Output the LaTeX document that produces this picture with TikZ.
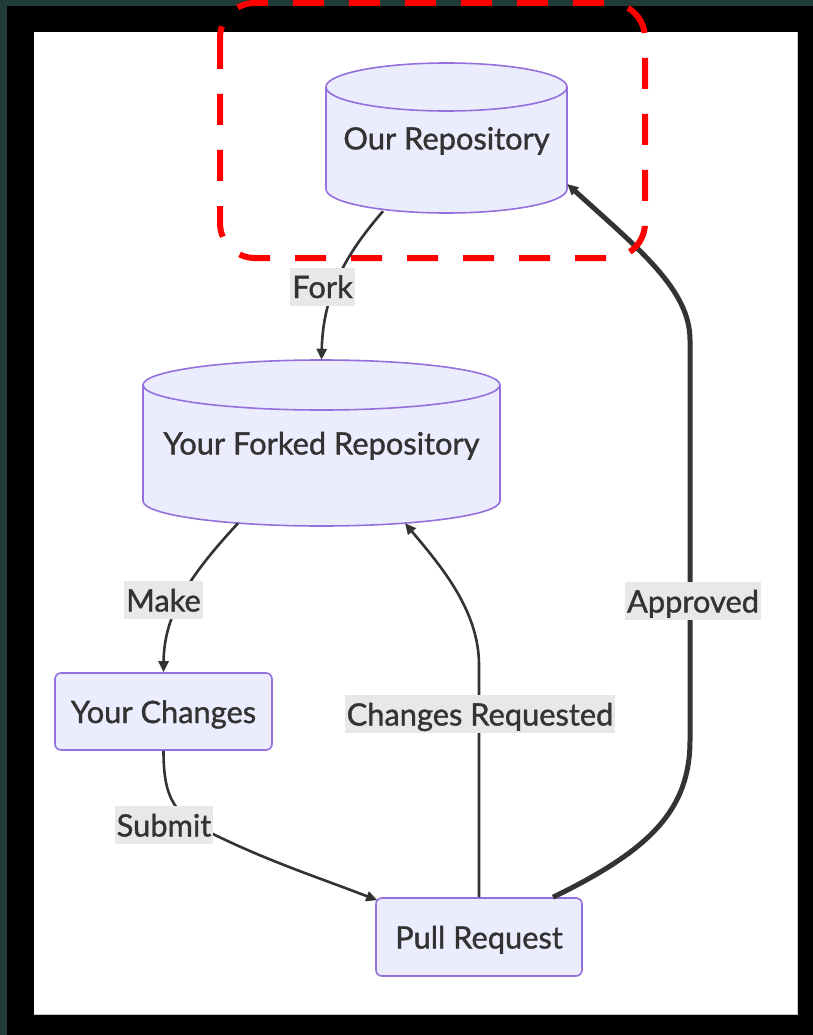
\documentclass[tikz,border=0pt]{standalone}
\usepackage{fontspec}
\setmainfont{Lato}[RawFeature={embolden=1.2}]
\usetikzlibrary{arrows.meta,calc}

\definecolor{nodefill}{HTML}{ECECFF}
\definecolor{nodeline}{HTML}{9370DB}
\definecolor{edgeline}{HTML}{333333}
\definecolor{labelbg}{HTML}{E8E8E8}
\definecolor{textcol}{HTML}{333333}
\definecolor{frameteal}{HTML}{213C37}

% vertical database cylinder: centre x, top y, bottom y, half width, ellipse radius
\newcommand\dbshape[5]{%
  \path[dbbody] ({#1-#4},{#2+#5}) -- ({#1-#4},{#3-#5})
    .. controls ({#1-#4},{#3-#5+0.5523*#5}) and ({#1-0.5523*#4},{#3}) .. ({#1},{#3})
    .. controls ({#1+0.5523*#4},{#3}) and ({#1+#4},{#3-#5+0.5523*#5}) .. ({#1+#4},{#3-#5})
    -- ({#1+#4},{#2+#5})
    .. controls ({#1+#4},{#2+#5-0.5523*#5}) and ({#1+0.5523*#4},{#2}) .. ({#1},{#2})
    .. controls ({#1-0.5523*#4},{#2}) and ({#1-#4},{#2+#5-0.5523*#5}) .. cycle;
  \draw[dbrim] ({#1-#4},{#2+#5})
    .. controls ({#1-#4},{#2+#5+0.5523*#5}) and ({#1-0.5523*#4},{#2+2*#5}) .. ({#1},{#2+2*#5})
    .. controls ({#1+0.5523*#4},{#2+2*#5}) and ({#1+#4},{#2+#5+0.5523*#5}) .. ({#1+#4},{#2+#5});
}

\tikzset{
  dbbody/.style={fill=nodefill, draw=nodeline, line width=1.6pt},
  dbrim/.style={draw=nodeline, line width=1.6pt},
  labeltext/.style={text=textcol, font=\fontsize{30.8}{34}\selectfont,
    text height=24pt, text depth=1pt},
  dbtext/.style={labeltext, inner sep=0pt},
  procbox/.style={labeltext, rectangle, rounded corners=6pt, fill=nodefill,
    draw=nodeline, line width=1.6pt, inner sep=0pt},
  edge/.style={draw=edgeline, line width=2.6pt,
    -{Triangle[length=11pt,width=10pt]}},
  thickedge/.style={edge, line width=5pt},
  edgelabel/.style={labeltext, fill=labelbg, inner xsep=2pt, inner ysep=0pt,
    minimum height=38pt},
  highlight/.style={draw=red, line width=6pt, dash pattern=on 31pt off 25pt,
    rounded corners=35pt},
}

\begin{document}
\begin{tikzpicture}[x=1pt, y=-1pt]
  \useasboundingbox (0,0) rectangle (813,1035);

  % dark frame and white canvas
  \fill[black] (0,0) rectangle (813,1035);
  \fill[frameteal] (0,0) rectangle (7,1035);
  \fill[frameteal] (0,0) rectangle (813,6);
  \fill[white] (34,32) rectangle (797,1014);
  \draw[black!20, line width=0.8pt] (797,32) -- (797,1014) -- (34,1014);

  % cylinders
  \dbshape{446.5}{63}{213}{120.5}{24}
  \dbshape{321.5}{360}{526}{178.5}{25}

  % nodes
  \node[dbtext, minimum width=241pt, minimum height=150pt] (our) at (446.5,138) {Our Repository};
  \node[dbtext, minimum width=357pt, minimum height=166pt] (fork) at (321.5,443) {Your Forked Repository};
  \node[procbox, minimum width=217pt, minimum height=77pt] (chg) at (163.5,711.5) {Your Changes};
  \node[procbox, minimum width=206pt, minimum height=78pt] (pr) at (479,937) {Pull Request};

  % connectors
  \draw[edge] ($(our.south)+(-63.5,-2)$) .. controls (345,255) and (323,295) .. (fork.north);
  \draw[edge] ($(fork.south)+(-83.5,-3)$) .. controls (195,570) and (164,610) .. (chg.north);
  \draw[edge] (chg.south) .. controls (163.5,800) and (175,815) .. (213,834)
    .. controls (270,862) and (320,878) .. ($(pr.north west)+(2,3)$);
  \draw[edge] (pr.north) -- (479,665) .. controls (479,610) and (440,565) .. ($(fork.south)+(83.5,-3)$);
  \draw[thickedge] ($(pr.north)+(74,0)$) .. controls (650,850) and (690,810) .. (690,740)
    -- (690,340) .. controls (690,290) and (640,250) .. ($(our.east)+(0,46)$);

  % connector labels
  \node[edgelabel] (lfork) at (322.5,286.5) {Fork};
  \node[edgelabel] (lmake) at (163.5,600) {Make};
  \node[edgelabel] (lsubmit) at (164,825) {Submit};
  \node[edgelabel] (lreq) at (480,714) {Changes Requested};
  \node[edgelabel] (lok) at (693,601) {Approved};

  % highlight round the upstream repository
  \draw[highlight] (220,3) rectangle (645,258);
\end{tikzpicture}
\end{document}
